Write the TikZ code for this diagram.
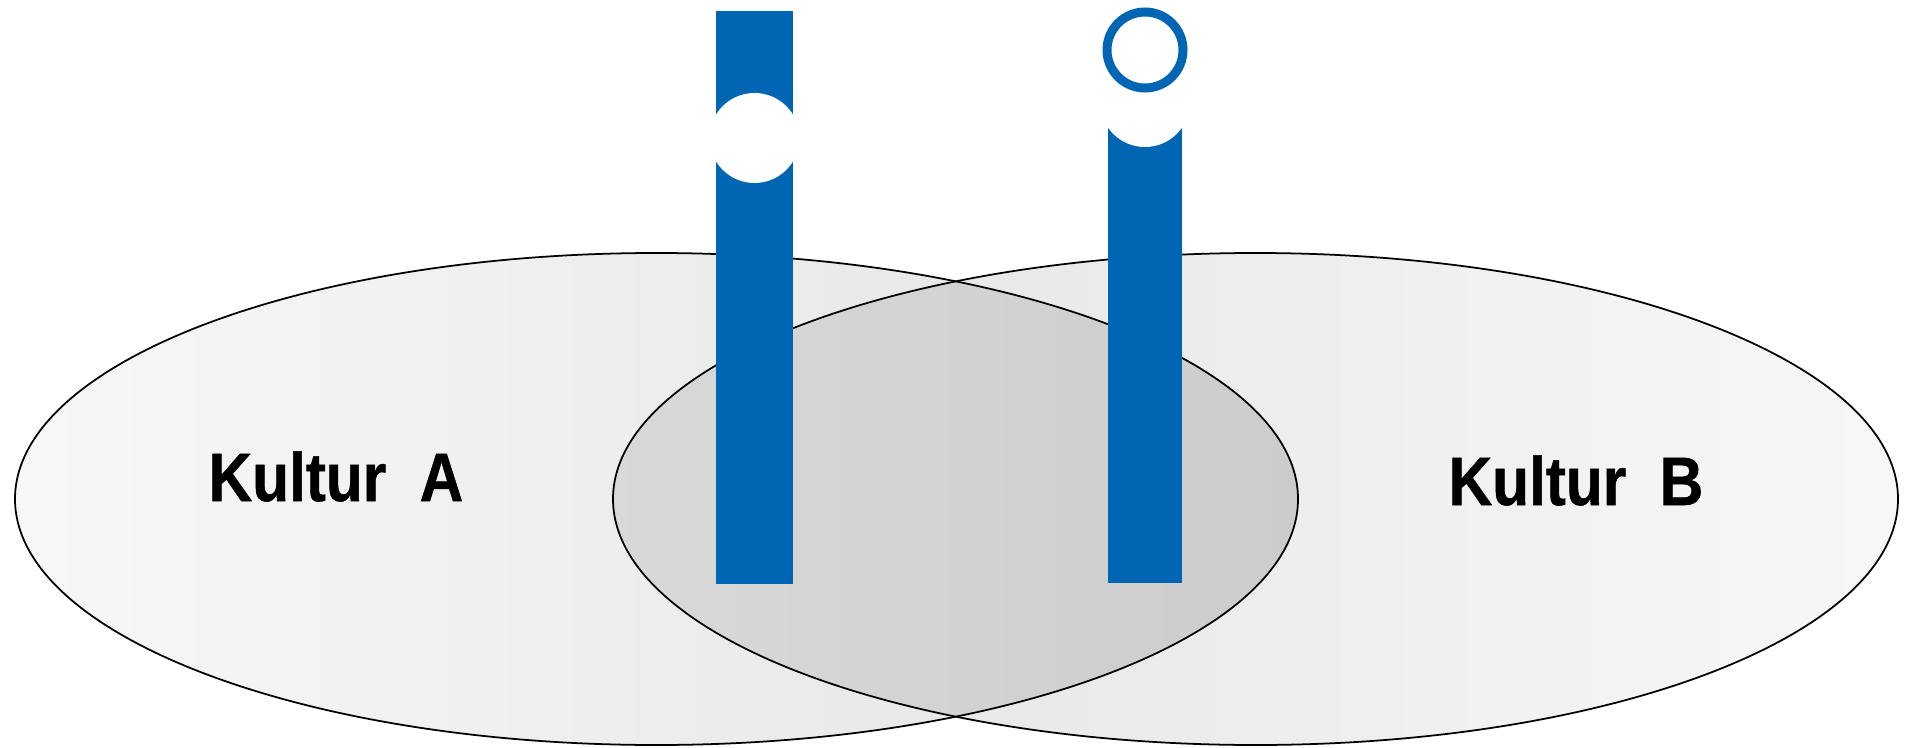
\documentclass[tikz,border=0pt]{standalone}
\usepackage{xcolor}
\usepackage{fontspec}
\newfontfamily\kulturfont[FakeStretch=0.88, FakeBold=0.8]{Liberation Sans}
\definecolor{ibar}{RGB}{0,102,179}

\begin{document}
\begin{tikzpicture}[
    kultur/.style={font=\kulturfont\bfseries\fontsize{19.5}{22}\selectfont, anchor=base},
    rim/.style={draw=black, line width=0.5pt},
  ]
  \useasboundingbox (0,0) rectangle (19.05,7.47);

  % the two cultures
  \fill[left color=gray!6, right color=gray!22] (6.565,2.48) ellipse (6.415 and 2.46);
  \fill[left color=gray!22, right color=gray!6] (12.555,2.48) ellipse (6.425 and 2.46);
  \begin{scope}
    \clip (6.565,2.48) ellipse (6.415 and 2.46);
    \clip (12.555,2.48) ellipse (6.425 and 2.46);
    \fill[left color=gray!30, right color=gray!40] (6.13,0) rectangle (12.98,5);
  \end{scope}
  \draw[rim] (6.565,2.48) ellipse (6.415 and 2.46);
  \draw[rim] (12.555,2.48) ellipse (6.425 and 2.46);

  \node[kultur] (kulturA) at (3.36,2.46) {Kultur\ \ A};
  \node[kultur] (kulturB) at (15.76,2.42) {Kultur\ \ B};

  % the two i's
  \fill[ibar] (7.16,1.63) rectangle (7.93,7.36);
  \fill[white] (7.545,6.09) circle (0.45);
  \fill[ibar] (11.08,1.64) rectangle (11.82,6.6);
  \fill[white] (11.45,6.45) circle (0.45);
  \draw[ibar, line width=0.09cm] (11.45,6.97) circle (0.38);
\end{tikzpicture}
\end{document}
